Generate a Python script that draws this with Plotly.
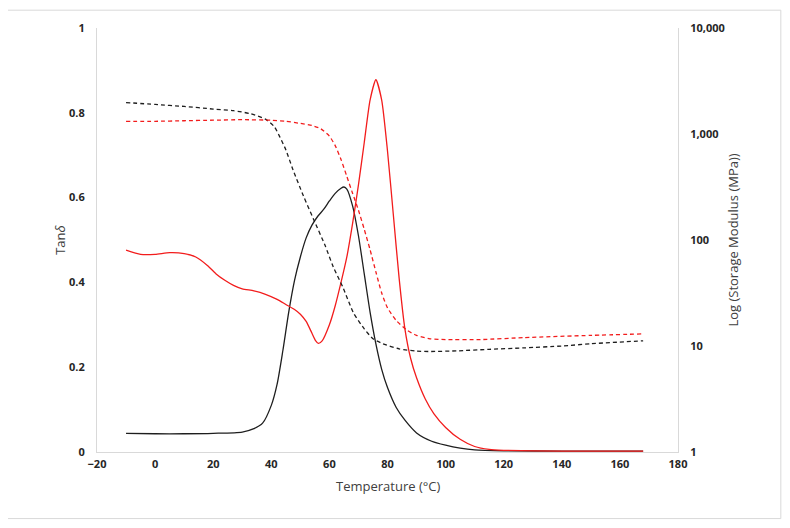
import plotly.graph_objects as go

# ---- tan delta (left axis) ----
t_tan_black = [-10, 0, 10, 20, 30, 34, 37, 40, 42, 44, 46, 48, 50, 52, 54, 56, 58, 60,
               62, 64, 65, 66, 68, 70, 72, 74, 76, 78, 80, 83, 86, 90, 95, 100, 105,
               110, 120, 140, 168]
tan_black = [0.044, 0.043, 0.043, 0.044, 0.047, 0.055, 0.068, 0.11, 0.16, 0.24, 0.33,
             0.405, 0.46, 0.505, 0.535, 0.556, 0.572, 0.592, 0.61, 0.622, 0.625, 0.62,
             0.58, 0.51, 0.42, 0.33, 0.255, 0.195, 0.152, 0.105, 0.075, 0.045, 0.026,
             0.016, 0.009, 0.005, 0.003, 0.002, 0.002]

t_tan_red = [-10, -5, 0, 5, 10, 14, 18, 21, 24, 27, 30, 34, 38, 42, 45, 48, 50, 52,
             54, 55.3, 56.2, 57.5, 60, 62, 64, 66, 68, 70, 72, 74, 76, 78, 80, 82, 84,
             86, 88, 90, 93, 96, 100, 105, 110, 115, 120, 140, 168]
tan_red = [0.476, 0.466, 0.466, 0.47, 0.468, 0.46, 0.44, 0.42, 0.405, 0.393, 0.385,
           0.38, 0.372, 0.36, 0.348, 0.336, 0.325, 0.308, 0.28, 0.262, 0.256, 0.262,
           0.30, 0.345, 0.40, 0.46, 0.54, 0.63, 0.73, 0.83, 0.878, 0.83, 0.71, 0.56,
           0.41, 0.29, 0.22, 0.175, 0.125, 0.09, 0.058, 0.03, 0.013, 0.006, 0.004,
           0.002, 0.002]

# ---- storage modulus, MPa (right, log axis) ----
t_mod_black = [-10, 0, 10, 20, 27, 33, 38, 41, 43, 45, 47.5, 51, 54.5, 58.5, 61.3,
               64.8, 68.3, 72, 75, 78.4, 84, 90, 95, 104, 115, 127, 140, 150, 168]
mod_black = [1980, 1900, 1820, 1720, 1660, 1550, 1380, 1175, 930, 710, 457, 263, 158,
             89, 56, 35, 20.5, 14.5, 11.7, 10.5, 9.4, 8.95, 8.87, 9.0, 9.3, 9.6, 10.0,
             10.5, 11.2]

t_mod_red = [-10, 0, 10, 20, 30, 40, 45, 50, 54, 57, 60, 62, 64, 66, 68, 70, 72, 74,
             76, 78, 80, 83, 86.7, 90, 94.6, 100, 112, 127, 150, 168]
mod_red = [1318, 1318, 1334, 1349, 1365, 1349, 1318, 1259, 1202, 1122, 955, 776, 575,
           398, 275, 191, 126, 81, 50, 31.6, 22.9, 17.4, 14.1, 12.6, 11.7, 11.5, 11.5,
           12.0, 12.6, 13.0]

left_ticks = [0, 0.2, 0.4, 0.6, 0.8, 1]
left_labels = ["0", "0.2", "0.4", "0.6", "0.8", "1"]
right_ticks = [1, 10, 100, 1000, 10000]
right_labels = ["1", "10", "100", "1,000", "10,000"]
x_ticks = list(range(-20, 181, 20))
x_labels = ["\u221220"] + [str(v) for v in x_ticks[1:]]

BLACK = "#1e1e1e"
RED = "#f21c1c"
AXIS = "#d9d9d9"
TXT = "#404040"

fig = go.Figure()

fig.add_trace(go.Scatter(x=t_mod_black, y=mod_black, yaxis="y2", mode="lines",
                         line=dict(color=BLACK, width=1.3, dash="4px,3px", shape="spline", smoothing=0.6)))
fig.add_trace(go.Scatter(x=t_mod_red, y=mod_red, yaxis="y2", mode="lines",
                         line=dict(color=RED, width=1.3, dash="4px,3px", shape="spline", smoothing=0.6)))
fig.add_trace(go.Scatter(x=t_tan_black, y=tan_black, mode="lines",
                         line=dict(color=BLACK, width=1.3, shape="spline", smoothing=0.7)))
fig.add_trace(go.Scatter(x=t_tan_red, y=tan_red, mode="lines",
                         line=dict(color=RED, width=1.3, shape="spline", smoothing=0.6)))

tickfont = dict(family="Open Sans, Arial", size=11, color="#262626", weight="bold")
titlefont = dict(family="Open Sans, Arial", size=13, color=TXT)

# the page body adds an 8px offset, so margins are shifted to compensate
fig.update_layout(
    width=790, height=528,
    paper_bgcolor="white", plot_bgcolor="white",
    showlegend=False,
    margin=dict(l=89, r=120, t=17, b=84),
    xaxis=dict(range=[-20, 180], tickvals=x_ticks, ticktext=x_labels,
               showgrid=False, zeroline=False, showline=True, linecolor=AXIS,
               linewidth=1, tickfont=tickfont, ticklabelstandoff=2),
    yaxis=dict(range=[0, 1], tickvals=left_ticks, ticktext=left_labels,
               showgrid=False, zeroline=False, showline=True, linecolor=AXIS,
               linewidth=1, tickfont=tickfont, ticklabelstandoff=9),
    yaxis2=dict(type="log", range=[0, 4], overlaying="y", side="right",
                tickvals=right_ticks, ticktext=right_labels,
                showgrid=False, zeroline=False, showline=True, linecolor=AXIS,
                linewidth=1, tickfont=tickfont, ticklabelstandoff=9),
    shapes=[dict(type="rect", xref="paper", yref="paper",
                 x0=-0.155, x1=1.177, y0=-0.157, y1=1.042,
                 line=dict(color=AXIS, width=1), fillcolor="rgba(0,0,0,0)", layer="below")],
    annotations=[
        dict(text="Temperature (\u00b0C)", xref="paper", yref="paper", x=0.5, y=-0.08,
             xanchor="center", yanchor="middle", showarrow=False, font=titlefont),
        dict(text="Tan<i>\u03b4</i>", xref="paper", yref="paper", x=-0.064, y=0.5,
             xanchor="center", yanchor="middle", textangle=-90, showarrow=False,
             font=titlefont),
        dict(text="Log (Storage Modulus (MPa))", xref="paper", yref="paper", x=1.094, y=0.5,
             xanchor="center", yanchor="middle", textangle=-90, showarrow=False,
             font=titlefont),
    ],
)

fig.write_html("out.html")
